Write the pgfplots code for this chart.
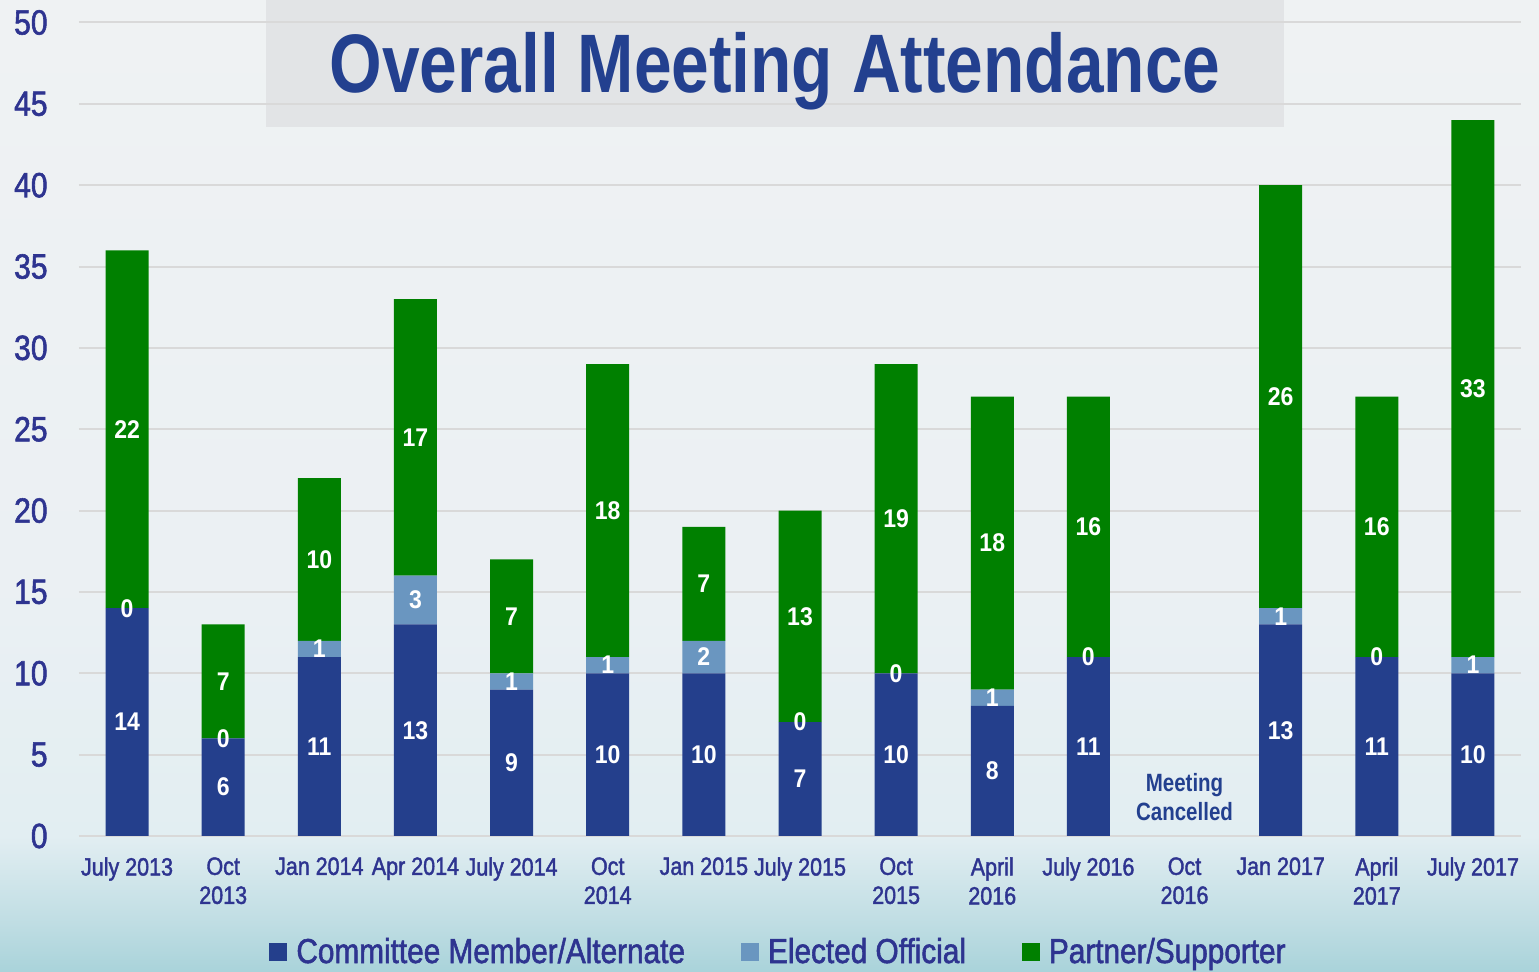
\documentclass[border=0pt]{standalone}
\usepackage{pgfplots}
\pgfplotsset{compat=1.18}
\usepackage{pgfplotstable}
\usepackage{fontspec}
\setmainfont{Liberation Sans}[FakeStretch=0.86]
\newfontfamily\tickfont{Liberation Sans}[FakeStretch=0.86, FakeBold=1.6]
\newfontfamily\titlefont{Liberation Sans}[FakeStretch=0.815]
\newfontfamily\labfont{Liberation Sans}[FakeStretch=0.9]
\newfontfamily\mcfont{Liberation Sans}[FakeStretch=0.82]
\definecolor{cmte}{HTML}{243F8C}
\definecolor{elect}{HTML}{6A96C0}
\definecolor{partner}{HTML}{008000}
\definecolor{txt}{HTML}{2E3490}
\definecolor{ttl}{HTML}{23408F}
\definecolor{gridc}{HTML}{D9D9D9}
\definecolor{tbox}{HTML}{E2E4E6}
\definecolor{bgA}{HTML}{A9D3DA}
\definecolor{bgB}{HTML}{BFDDE3}
\definecolor{bgC}{HTML}{E2EEF2}
\definecolor{bgD}{HTML}{EBF0F3}
\definecolor{bgE}{HTML}{EFF2F3}
\pgfdeclareverticalshading{bg}{100bp}{color(0bp)=(bgA); color(25bp)=(bgA); color(27.5bp)=(bgB); color(32bp)=(bgC); color(45bp)=(bgD); color(75bp)=(bgE); color(100bp)=(bgE)}

\pgfplotstableread{
x c e p
0 14 0 22
1 6 0 7
2 11 1 10
3 13 3 17
4 9 1 7
5 10 1 18
6 10 2 7
7 7 0 13
8 10 0 19
9 8 1 18
10 11 0 16
12 13 1 26
13 11 0 16
14 10 1 33
}\data

\begin{document}
\begin{tikzpicture}
\useasboundingbox (-39.5pt,-68pt) rectangle (730pt,418pt);
\shade[shading=bg] (-39.5pt,-68pt) rectangle (730pt,418pt);
\fill[tbox] (93.5pt,354.5pt) rectangle (602.5pt,418pt);
\begin{axis}[
  at={(0,0)}, anchor=south west,
  scale only axis, width=721pt, height=406.75pt,
  xmin=-0.5, xmax=14.5, ymin=0, ymax=50,
  ybar stacked, bar width=21.5pt,
  axis line style={draw=none}, major tick length=0pt,
  /pgf/number format/assume math mode=true,
  ytick={0,5,...,50},
  ymajorgrids, grid style={gridc, line width=1pt},
  xtick={0,...,14},
  xticklabels={July 2013, {Oct\\2013}, Jan 2014, Apr 2014, July 2014, {Oct\\2014}, Jan 2015, July 2015, {Oct\\2015}, {April\\2016}, July 2016, {Oct\\2016}, Jan 2017, {April\\2017}, July 2017},
  xticklabel style={align=center, font=\tickfont\fontsize{12.5}{14.5}\selectfont, text=txt, inner sep=0pt, anchor=north, yshift=-10.5pt},
  yticklabel style={font=\tickfont\fontsize{17.5}{18}\selectfont, text=txt, anchor=east, inner sep=0pt, xshift=-15.5pt},
  legend style={at={(0.4875,-0.1426)}, anchor=center, draw=none, fill=none, legend columns=3,
    font=\tickfont\fontsize{17.3}{20}\selectfont, text=txt, inner sep=0pt,
    nodes={inner xsep=4.5pt},
    /tikz/every even column/.append style={column sep=23.5pt}},
  legend image code/.code={\fill[#1] (0pt,-4.5pt) rectangle (9pt,4.5pt);},
]
\addplot[fill=cmte, draw=none] table[x=x,y=c]{\data};
\addplot[fill=elect, draw=none] table[x=x,y=e]{\data};
\addplot[fill=partner, draw=none] table[x=x,y=p]{\data};
\legend{Committee Member/Alternate, Elected Official, Partner/Supporter}
\node[align=center, text=ttl, font=\mcfont\bfseries\fontsize{12.5}{14.5}\selectfont] at (axis cs:11,2.4) {Meeting\\Cancelled};
\end{axis}
\begin{axis}[
  at={(0,0)}, anchor=south west,
  scale only axis, width=721pt, height=406.75pt,
  xmin=-0.5, xmax=14.5, ymin=0, ymax=50,
  hide axis, clip=false,
  nodes near coords, point meta=explicit symbolic,
  nodes near coords style={anchor=center, text=white, inner sep=0pt, font=\labfont\bfseries\fontsize{12.8}{14}\selectfont},
]
\addplot[draw=none, mark=none] table[x=x, y expr=\thisrow{c}/2, meta=c]{\data};
\addplot[draw=none, mark=none] table[x=x, y expr=\thisrow{c}+\thisrow{e}/2, meta=e]{\data};
\addplot[draw=none, mark=none] table[x=x, y expr=\thisrow{c}+\thisrow{e}+\thisrow{p}/2, meta=p]{\data};
\end{axis}
\node[anchor=base, text=ttl, inner sep=0pt, font=\titlefont\bfseries\fontsize{41.5}{45}\selectfont] at (348pt,371.5pt) {Overall Meeting Attendance};
\end{tikzpicture}
\end{document}
